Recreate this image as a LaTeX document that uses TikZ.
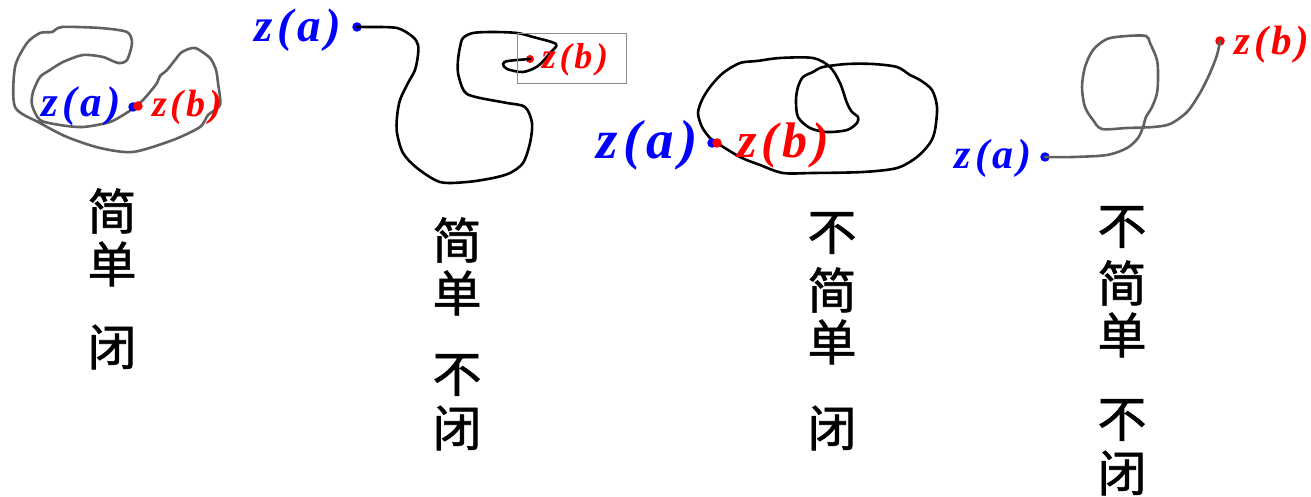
\documentclass[tikz,border=0pt]{standalone}
\usepackage{fontspec}
\setmainfont{Liberation Serif}
\newfontfamily\cjk[FakeBold=1.2]{Noto Sans CJK SC}
\newcommand\zlab[1]{\textbf{\textit{z\hspace{.1em}(\hspace{.08em}#1\hspace{.1em})}}}
\begin{document}
\begin{tikzpicture}[x=1pt,y=-1pt,
  gcurve/.style={draw=black!62, line width=2.6pt, line join=round, line cap=round},
  kcurve/.style={draw=black, line width=2.6pt, line join=round, line cap=round},
  han/.style={font=\cjk\fontsize{49}{49}\selectfont, inner sep=0pt},
  laba/.style={text=blue, inner sep=0pt},
  labb/.style={text=red, inner sep=0pt},
  dotb/.style={circle, fill=blue, inner sep=0pt, minimum size=9.5pt},
  dotr/.style={circle, fill=red, inner sep=0pt, minimum size=9.5pt},
  zoombox/.style={draw=black!45, line width=1pt}]
\useasboundingbox (0,0) rectangle (1311,497);

% ---------- diagram 1 : simple closed ----------
\draw[gcurve] plot[smooth cycle, tension=0.45] coordinates {
 (136,106) (143,100) (150,92) (157,83) (160,76) (167,70) (175,60) (182,52)
 (195,48) (210,58) (216,70) (218,83) (220,105) (208,115) (200,127) (173,140)
 (133,152) (100,148) (67,137) (40,123) (15,107) (15,67) (27,43) (40,33)
 (52,32) (62,27) (100,28) (127,32) (132,43) (127,60) (118,63) (103,57)
 (83,55) (63,62) (50,70) (40,77) (33,92) (32,105) (40,120) (60,125)
 (83,127) (110,122) (128,112)};
\node[dotb] (a1) at (133,107) {};
\node[dotr] (b1) at (138,106) {};
\node[laba, font=\fontsize{43}{43}\selectfont] (la1) at (81,106) {\zlab{a}};
\node[labb, font=\fontsize{38}{38}\selectfont] (lb1) at (187,107) {\zlab{b}};
\node[han] (h11) at (112,211) {简};
\node[han] (h12) at (112,264) {单};
\node[han] (h13) at (112,347) {闭};

% ---------- diagram 2 : simple, not closed ----------
\node[dotb] (a2) at (357,27) {};
\node[dotr, minimum size=8pt] (b2) at (530,59) {};
\draw[kcurve] plot[smooth, tension=0.5] coordinates {
 (357,27) (367,27) (397,28) (413,37) (418,45) (418,55) (415,70) (408,83)
 (400,100) (397,117) (397,133) (403,153) (417,168) (440,182) (467,182)
 (493,178) (510,173) (523,163) (530,143) (532,123) (525,107) (507,103)
 (480,98) (467,94) (462,87) (458,73) (458,60) (460,47) (463,38) (473,33)
 (493,32) (517,33) (533,37) (556,44) (550,53) (538,66) (523,72) (507,69)
 (503,64) (508,61) (530,59)};
\node[zoombox, minimum width=109pt, minimum height=50pt, inner sep=0pt] (box2) at (571.5,59) {};
\node[laba, font=\fontsize{47}{47}\selectfont] (la2) at (298,30) {\zlab{a}};
\node[labb, font=\fontsize{36}{36}\selectfont] (lb2) at (575,60) {\zlab{b}};
\node[han] (h21) at (457,240) {简};
\node[han] (h22) at (457,293) {单};
\node[han] (h23) at (457,375) {不};
\node[han] (h24) at (457,428) {闭};

% ---------- diagram 3 : not simple, closed ----------
\draw[kcurve] plot[smooth cycle, tension=0.5] coordinates {
 (717,143) (740,157) (760,165) (783,173) (813,173) (863,172) (897,168)
 (917,157) (930,143) (935,130) (937,107) (932,90) (920,80) (910,75)
 (897,67) (873,64) (847,64) (823,67) (813,72) (803,77) (798,87) (796,100)
 (798,117) (810,128) (827,132) (847,130) (857,123) (858,117) (852,112)
 (847,103) (840,83) (830,67) (813,58) (780,58) (757,61) (740,63) (723,73)
 (710,87) (702,100) (698,113) (702,127) (710,138)};
\node[dotb] (a3) at (712,143) {};
\node[dotr] (b3) at (717,143) {};
\node[laba, font=\fontsize{55}{55}\selectfont] (la3) at (647,145) {\zlab{a}};
\node[labb, font=\fontsize{50}{50}\selectfont] (lb3) at (783,145) {\zlab{b}};
\node[han] (h31) at (832,233) {不};
\node[han] (h32) at (832,290) {简};
\node[han] (h33) at (832,342) {单};
\node[han] (h34) at (832,428) {闭};

% ---------- diagram 4 : not simple, not closed ----------
\node[dotb] (a4) at (1045,157) {};
\node[dotr] (b4) at (1220,41) {};
\draw[gcurve] plot[smooth, tension=0.5] coordinates {
 (1045,157) (1073,157) (1107,155) (1127,148) (1138,138) (1143,127)
 (1146,117) (1152,107) (1157,93) (1158,77) (1157,60) (1150,43) (1146,36)
 (1127,36) (1107,39) (1093,50) (1085,67) (1082,87) (1085,107) (1093,120)
 (1102,129) (1127,128) (1153,127) (1170,124) (1187,112) (1200,93)
 (1210,73) (1217,55) (1220,41)};
\node[laba, font=\fontsize{42}{42}\selectfont] (la4) at (993,158) {\zlab{a}};
\node[labb, font=\fontsize{41}{41}\selectfont] (lb4) at (1272,45) {\zlab{b}};
\node[han] (h41) at (1122,227) {不};
\node[han] (h42) at (1122,283) {简};
\node[han] (h43) at (1122,335) {单};
\node[han] (h44) at (1122,420) {不};
\node[han] (h45) at (1122,473) {闭};
\end{tikzpicture}
\end{document}
